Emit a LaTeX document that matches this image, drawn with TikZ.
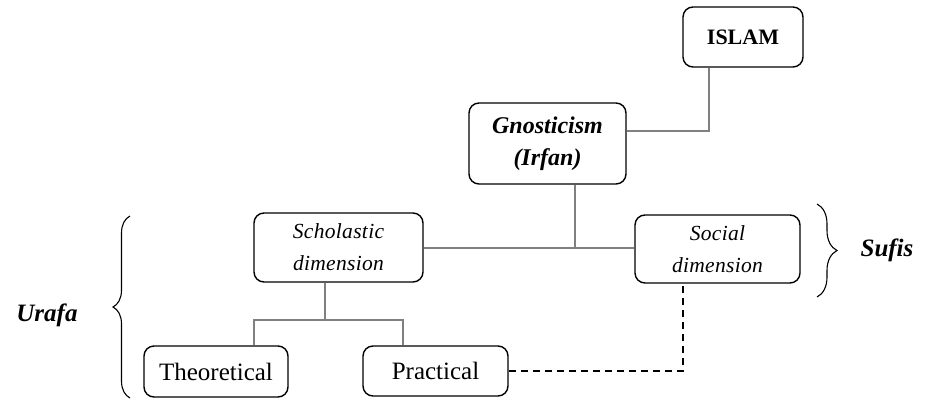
\documentclass[tikz,border=0pt]{standalone}
\usepackage{fontspec}
\setmainfont{Liberation Serif}
\usetikzlibrary{decorations.pathreplacing}
\begin{document}
\begin{tikzpicture}[x=1pt,y=-1pt,
  box/.style={draw=black,line width=1.4pt,rounded corners=10pt,inner sep=0pt,align=center,
    font=\fontsize{25}{32}\selectfont},
  dimtext/.style={font=\fontsize{21.5}{32}\selectfont\itshape\addfontfeatures{LetterSpace=1.5}},
  link/.style={draw=black!50,line width=2pt},
  dlink/.style={draw=black,line width=1.4pt,dash pattern=on 7pt off 5pt},
  bracel/.style={draw=black,line width=1.1pt,decorate,decoration={brace,amplitude=#1}},
  tag/.style={font=\fontsize{25}{30}\selectfont\bfseries\itshape}]
\useasboundingbox (0,0) rectangle (925,399);
% boxes
\node[box,minimum width=120pt,minimum height=60pt,font=\fontsize{22}{26}\selectfont\bfseries] (islam) at (743,37) {ISLAM};
\node[box,minimum width=157pt,minimum height=81pt,font=\fontsize{24}{32}\selectfont\bfseries\itshape] (gn) at (547.5,143.5) {Gnosticism\\(Irfan)};
\node[box,dimtext,minimum width=169pt,minimum height=69pt] (sch) at (338.5,247.5) {Scholastic\\dimension};
\node[box,dimtext,minimum width=165pt,minimum height=68pt] (soc) at (717.5,249) {Social\\dimension};
\node[box,minimum width=144pt,minimum height=51pt] (theo) at (216,371.5) {Theoretical};
\node[box,minimum width=145pt,minimum height=50pt] (prac) at (435.5,371) {Practical};
% solid connectors
\draw[link] ([yshift=12.5pt]gn.east) -| ([xshift=-34pt]islam.south);
\coordinate (mid) at (575,248);
\draw[link] (sch.east) -- (sch.east -| soc.west);
\draw[link] ([xshift=27.5pt]gn.south) -- (mid);
\coordinate (fork) at (325,320);
\draw[link] ([xshift=-13.5pt]sch.south) -- (fork);
\draw[link] ([xshift=38pt]theo.north) |- (fork) -| ([xshift=-32.5pt]prac.north);
% dashed connector
\draw[dlink] (prac.east) -| ([xshift=-34.5pt]soc.south);
% braces and group labels
\coordinate (sa) at (817,204);
\coordinate (sb) at (817,297);
\draw[bracel=20pt] (sa) -- (sb);
\node[tag] (sufis) at (887,250) {Sufis};
\coordinate (ua) at (130,398);
\coordinate (ub) at (130,216);
\draw[bracel=17pt] (ua) -- (ub);
\node[tag] (urafa) at (47,315) {Urafa};
\end{tikzpicture}
\end{document}
